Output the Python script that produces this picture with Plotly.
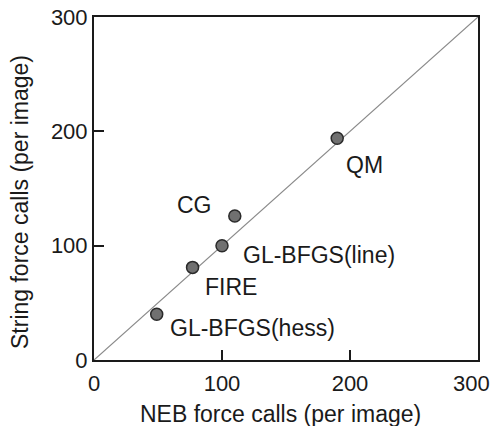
import plotly.graph_objects as go

methods = ["QM", "CG", "GL-BFGS(line)", "FIRE", "GL-BFGS(hess)"]
neb_calls = [190, 110, 100, 77, 49]
string_calls = [194, 126, 100, 81, 40]
diag = [0, 300]
ticks = [0, 100, 200, 300]
tick_labels = ["0", "100", "200", "300"]
x_title = "NEB force calls (per image)"
y_title = "String force calls (per image)"

# label placement (pixel offsets from points)
label_dx = [7, -21, 19, 10, 11]
label_dy = [-27, 11, -9, -20, -14]
label_anchor = ["left", "right", "left", "left", "left"]

FONT = "Liberation Sans, Arial, Helvetica, sans-serif"
INK = "#1a1a1a"
L, R, T, B = 94, 478, 17, 360  # plot box in pixels

fig = go.Figure()
fig.add_trace(go.Scatter(x=diag, y=diag, mode="lines",
                         line=dict(color="#8a8a8a", width=1.2),
                         hoverinfo="skip", showlegend=False))
fig.add_trace(go.Scatter(x=neb_calls, y=string_calls, mode="markers",
                         marker=dict(size=12, color="#707070",
                                     line=dict(color="#2a2a2a", width=1.5)),
                         showlegend=False))
for m, x, y, dx, dy, a in zip(methods, neb_calls, string_calls, label_dx, label_dy, label_anchor):
    fig.add_annotation(x=x, y=y, text=m, showarrow=False, xanchor=a, yanchor="middle",
                       xshift=dx, yshift=dy,
                       font=dict(family=FONT, size=23, color=INK))

# last x tick label pulled inside the page edge
fig.add_annotation(x=ticks[-1], xref="x", y=-(383 - B) / (B - T), yref="paper",
                   text=tick_labels[-1], showarrow=False, xanchor="right", yanchor="middle",
                   xshift=14, font=dict(family=FONT, size=22, color=INK))

# axis titles
fig.add_annotation(x=(280 - L) / (R - L), xref="paper", y=-(414 - B) / (B - T), yref="paper",
                   text=x_title, showarrow=False, xanchor="center", yanchor="middle",
                   font=dict(family=FONT, size=23, color=INK))
fig.add_annotation(x=-(L - 20) / (R - L), xref="paper", y=(B - 202) / (B - T), yref="paper",
                   text=y_title, textangle=-90,
                   showarrow=False, xanchor="center", yanchor="middle",
                   font=dict(family=FONT, size=23, color=INK))

axis_common = dict(range=[0, 300], tickvals=ticks, ticks="inside", ticklen=10, tickwidth=2,
                   tickcolor=INK, showline=True, linecolor=INK, linewidth=2,
                   mirror=True, showgrid=False, zeroline=False, automargin=False,
                   tickfont=dict(family=FONT, size=22, color=INK))
fig.update_xaxes(**axis_common, ticktext=tick_labels[:-1] + [""], ticklabelstandoff=3)
fig.update_yaxes(**axis_common, ticktext=tick_labels, ticklabeloverflow="allow")
fig.update_layout(width=492, height=426, margin=dict(l=L, r=492 - R, t=T, b=426 - B),
                  paper_bgcolor="white", plot_bgcolor="white")
fig.write_html("out.html")
